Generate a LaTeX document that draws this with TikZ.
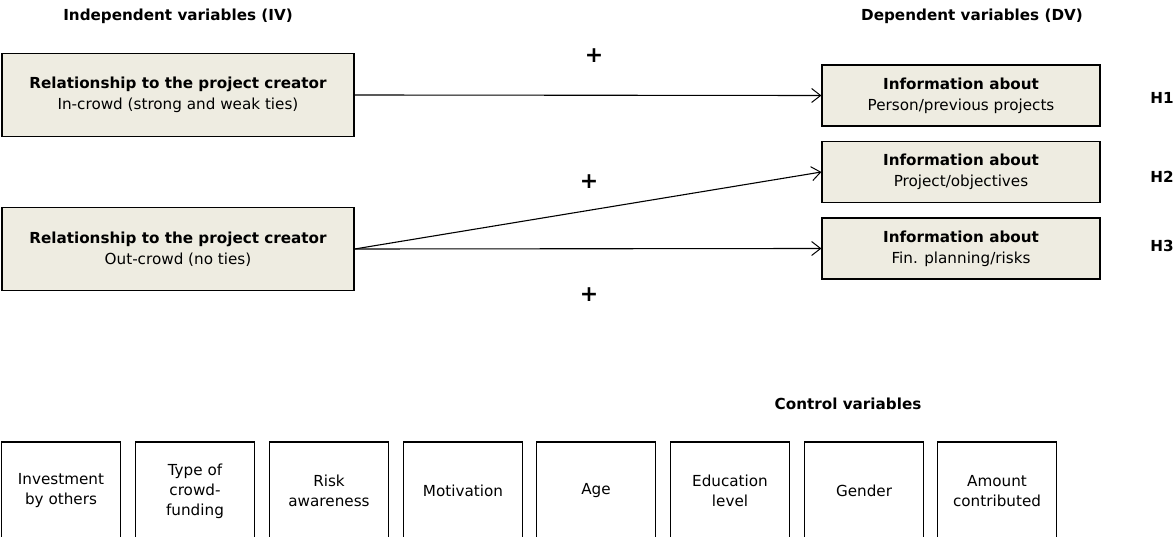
\documentclass[tikz,border=0pt]{standalone}
\usepackage{fontspec}
\setmainfont{DejaVu Sans}
\usetikzlibrary{arrows.meta}
\definecolor{boxfill}{HTML}{EEECE1}
\begin{document}
\begin{tikzpicture}[x=1pt,y=-1pt,
  base/.style={draw=black, line width=1.2pt, align=center, inner sep=0pt,
    font=\fontsize{15.2}{21}\selectfont},
  ivbox/.style={base, fill=boxfill, minimum width=352pt, minimum height=83pt},
  dvbox/.style={base, fill=boxfill, minimum width=278pt, minimum height=61pt},
  ctrlbox/.style={base, minimum width=119pt, minimum height=98pt, font=\fontsize{15.2}{20}\selectfont},
  head/.style={font=\bfseries\fontsize{15.2}{17}\selectfont, inner sep=0pt},
  hyp/.style={font=\bfseries\fontsize{15.2}{17}\selectfont, inner sep=0pt},
  plus/.style={font=\bfseries\fontsize{22}{24}\selectfont, inner sep=0pt},
  arr/.style={line width=1.1pt, -{Straight Barb[length=9pt,width=14pt,line width=1pt]}}
]
\useasboundingbox (0,0) rectangle (1176,537);
\clip (0,0) rectangle (1176,537);

\node[head] (ivh) at (178,16) {Independent variables (IV)};
\node[head] (dvh) at (972,16) {Dependent variables (DV)};

\node[ivbox] (iv1) at (178,95) {\textbf{Relationship to the project creator}\\In-crowd (strong and weak ties)};
\node[ivbox] (iv2) at (178,249) {\textbf{Relationship to the project creator}\\Out-crowd (no ties)};

\node[dvbox] (dv1) at (961,95.5) {\textbf{Information about}\\Person/previous projects};
\node[dvbox] (dv2) at (961,172) {\textbf{Information about}\\Project/objectives};
\node[dvbox] (dv3) at (961,248.5) {\textbf{Information about}\\Fin. planning/risks};

\node[hyp] (h1) at (1162,98) {H1};
\node[hyp] (h2) at (1162,177) {H2};
\node[hyp] (h3) at (1162,246) {H3};

\node[plus] (p1) at (594,56) {+};
\node[plus] (p2) at (589,182) {+};
\node[plus] (p3) at (589,295) {+};

\draw[arr] (iv1.east) -- (dv1.west);
\draw[arr] (iv2.east) -- (dv2.west);
\draw[arr] (iv2.east) -- (dv3.west);

\node[head] (ctrlh) at (848,404) {Control variables};

\node[ctrlbox] (c1) at (61,491) {Investment\\by others};
\node[ctrlbox] (c2) at (195,491) {Type of\\crowd-\\funding};
\node[ctrlbox] (c3) at (329,491) {Risk\\awareness};
\node[ctrlbox] (c4) at (463,491) {Motivation};
\node[ctrlbox] (c5) at (596,491) {Age};
\node[ctrlbox] (c6) at (730,491) {Education\\level};
\node[ctrlbox] (c7) at (864,491) {Gender};
\node[ctrlbox] (c8) at (997,491) {Amount\\contributed};
\end{tikzpicture}
\end{document}
